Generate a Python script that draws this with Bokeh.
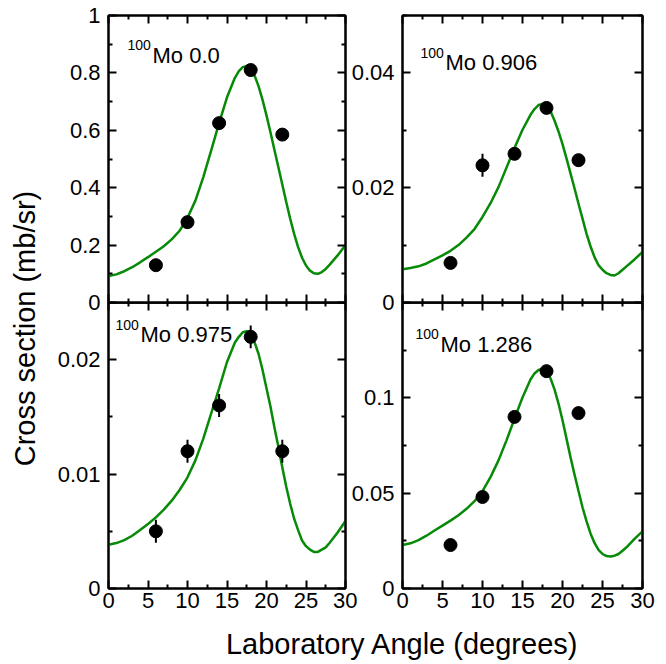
from bokeh.plotting import figure
from bokeh.models import Range1d, LinearAxis, FixedTicker, Label
from bokeh.layouts import row, column
from bokeh.embed import file_html
from bokeh.resources import INLINE
import math

# ---------------- data ----------------
angles = [6, 10, 14, 18, 22]

curve_x = [0, 1, 2, 3, 4, 5, 6, 7, 8, 9, 10, 11, 12, 13, 14, 15, 16, 16.5, 17,
           17.5, 18, 18.5, 19, 19.5, 20, 20.5, 21, 21.5, 22, 22.5, 23, 23.5,
           24, 24.5, 25, 25.5, 26, 26.5, 27, 27.5, 28, 29, 30]

# 100Mo 0.0
tl_points = [0.13, 0.28, 0.625, 0.81, 0.585]
tl_errors = [0.0, 0.0, 0.0, 0.0, 0.0]
tl_curve = [0.092, 0.098, 0.109, 0.123, 0.140, 0.158, 0.177, 0.196, 0.22,
            0.25, 0.295, 0.355, 0.437, 0.53, 0.625, 0.715, 0.783, 0.806, 0.82,
            0.824, 0.815, 0.79, 0.753, 0.706, 0.652, 0.593, 0.532, 0.472,
            0.411, 0.35, 0.292, 0.239, 0.193, 0.156, 0.129, 0.111, 0.102,
            0.10, 0.106, 0.117, 0.132, 0.164, 0.20]

# 100Mo 0.906
tr_points = [0.0069, 0.0239, 0.0259, 0.0339, 0.0248]
tr_errors = [0.0, 0.002, 0.0, 0.0, 0.0]
tr_curve = [0.0058, 0.0060, 0.0063, 0.0068, 0.0075, 0.0082, 0.0090, 0.0100,
            0.0113, 0.0128, 0.0149, 0.0173, 0.0201, 0.0235, 0.0269, 0.0301,
            0.0327, 0.0337, 0.0344, 0.0346, 0.0343, 0.0333, 0.0317, 0.0298,
            0.0276, 0.0251, 0.0225, 0.0199, 0.0172, 0.0146, 0.0120, 0.0098,
            0.0079, 0.0065, 0.0057, 0.0051, 0.0048, 0.0047, 0.0051, 0.0057,
            0.0063, 0.0075, 0.0088]

# 100Mo 0.975
bl_points = [0.005, 0.012, 0.016, 0.022, 0.012]
bl_errors = [0.001, 0.001, 0.001, 0.001, 0.001]
bl_curve = [0.00382, 0.00397, 0.00423, 0.00461, 0.00511, 0.00564, 0.00622,
            0.00689, 0.00768, 0.00861, 0.00972, 0.0112, 0.0131, 0.0153,
            0.0175, 0.0198, 0.0215, 0.0220, 0.0224, 0.0225, 0.0223, 0.0215,
            0.0205, 0.0191, 0.0175, 0.0159, 0.0141, 0.0124, 0.0106, 0.0089,
            0.0074, 0.0061, 0.0051, 0.0042, 0.0037, 0.0034, 0.0032, 0.0032,
            0.0034, 0.0036, 0.0040, 0.0049, 0.0059]

# 100Mo 1.286
br_points = [0.0228, 0.048, 0.09, 0.114, 0.092]
br_errors = [0.0, 0.0, 0.0, 0.0, 0.0]
br_curve = [0.0228, 0.0237, 0.0254, 0.0277, 0.0304, 0.0330, 0.0356, 0.0384,
            0.0418, 0.0458, 0.0511, 0.0584, 0.0672, 0.0777, 0.0891, 0.1002,
            0.1096, 0.1128, 0.1146, 0.1153, 0.1139, 0.1102, 0.1044, 0.0970,
            0.0882, 0.0786, 0.0689, 0.0598, 0.0511, 0.0426, 0.0353, 0.0289,
            0.0239, 0.0202, 0.0181, 0.0170, 0.0168, 0.0172, 0.0181, 0.0198,
            0.0216, 0.0260, 0.0300]

x_major = [0, 5, 10, 15, 20, 25, 30]
x_minor = [2.5, 7.5, 12.5, 17.5, 22.5, 27.5]
x_labels = ["0", "5", "10", "15", "20", "25", "30"]

tl_y_major = [0, 0.2, 0.4, 0.6, 0.8, 1.0]
tl_y_minor = [0.1, 0.3, 0.5, 0.7, 0.9]
tl_y_labels = ["0", "0.2", "0.4", "0.6", "0.8", "1"]

tr_y_major = [0, 0.02, 0.04]
tr_y_minor = [0.01, 0.03, 0.05]
tr_y_labels = ["0", "0.02", "0.04"]

bl_y_major = [0, 0.01, 0.02]
bl_y_minor = [0.005, 0.015, 0.025]
bl_y_labels = ["0", "0.01", "0.02"]

br_y_major = [0, 0.05, 0.1]
br_y_minor = [0.025, 0.075, 0.125]
br_y_labels = ["0", "0.05", "0.1"]

FONT = "Liberation Sans"
GREEN = "#078a07"


def style_axis(ax, major, minor, labels, show_labels, standoff):
    ax.ticker = FixedTicker(ticks=major, minor_ticks=minor)
    ax.axis_line_color = "black"
    ax.axis_line_width = 2
    ax.major_tick_in = 8
    ax.major_tick_out = 0
    ax.minor_tick_in = 4
    ax.minor_tick_out = 0
    ax.major_tick_line_width = 2
    ax.minor_tick_line_width = 2
    ax.major_tick_line_color = "black"
    ax.minor_tick_line_color = "black"
    ax.major_label_text_font = FONT
    if show_labels:
        ax.major_label_overrides = {t: s for t, s in zip(major, labels)}
        ax.major_label_text_color = "black"
        ax.major_label_text_font_size = "22px"
        ax.major_label_standoff = standoff
    else:
        ax.major_label_text_color = None
        ax.major_label_text_font_size = "0px"
        ax.major_label_standoff = 0


def make_panel(points, errors, curve, ymax, ymaj, ymin, ylab, name, lx, ly,
               fw, fh, bl, br, bt, bb, show_x, margin):
    p = figure(output_backend="svg", toolbar_location=None,
               frame_width=fw, frame_height=fh,
               x_range=Range1d(0, 30), y_range=Range1d(0, ymax),
               min_border_left=bl, min_border_right=br,
               min_border_top=bt, min_border_bottom=bb,
               margin=margin)
    p.background_fill_alpha = 0
    p.border_fill_alpha = 0
    p.outline_line_color = "black"
    p.outline_line_width = 2
    p.grid.visible = False

    style_axis(p.xaxis[0], x_major, x_minor, x_labels, show_x, 4)
    style_axis(p.yaxis[0], ymaj, ymin, ylab, True, 8)
    top = LinearAxis()
    style_axis(top, x_major, x_minor, x_labels, False, 0)
    p.add_layout(top, "above")
    right = LinearAxis()
    style_axis(right, ymaj, ymin, ylab, False, 0)
    p.add_layout(right, "right")

    p.line(curve_x, curve, line_color=GREEN, line_width=2.5)
    lo = [v - e for v, e in zip(points, errors)]
    hi = [v + e for v, e in zip(points, errors)]
    p.segment(x0=angles, y0=lo, x1=angles, y1=hi, line_color="black", line_width=2)
    p.scatter(angles, points, size=13, fill_color="black", line_color="black")

    p.add_layout(Label(x=lx, y=ly, text=name, text_font=FONT,
                       text_font_size="22px", text_color="black",
                       text_baseline="middle", text_align="left"))
    p.add_layout(Label(x=lx, y=ly, x_offset=-25, y_offset=10, text="100",
                       text_font=FONT, text_font_size="14px", text_color="black",
                       text_baseline="middle", text_align="left"))
    return p


tl = make_panel(tl_points, tl_errors, tl_curve, 1.0, tl_y_major, tl_y_minor,
                tl_y_labels, "Mo 0.0", 5.57, 0.862,
                237, 287, 60, 12, 15, 12, False, (0, 0, 0, 0))
tr = make_panel(tr_points, tr_errors, tr_curve, 0.05, tr_y_major, tr_y_minor,
                tr_y_labels, "Mo 0.906", 5.37, 0.0418,
                240, 287, 57, 14, 15, 12, False, (0, 0, 0, -12))
bl = make_panel(bl_points, bl_errors, bl_curve, 0.025, bl_y_major, bl_y_minor,
                bl_y_labels, "Mo 0.975", 4.05, 0.02216,
                237, 286, 60, 12, 0, 32, True, (-12, 0, 0, 0))
br = make_panel(br_points, br_errors, br_curve, 0.15, br_y_major, br_y_minor,
                br_y_labels, "Mo 1.286", 4.75, 0.128,
                240, 286, 57, 14, 0, 32, True, (-12, 0, 0, -12))

# y-axis title column
ylab = figure(output_backend="svg", toolbar_location=None, width=48, height=620,
              x_range=Range1d(0, 48), y_range=Range1d(0, 620),
              x_axis_location=None, y_axis_location=None, min_border=0)
ylab.grid.visible = False
ylab.outline_line_color = None
ylab.add_layout(Label(x=24, y=292, text="Cross section (mb/sr)", angle=math.pi / 2,
                      text_font=FONT, text_font_size="29px", text_color="black",
                      text_align="center", text_baseline="middle"))

# x-axis title row
xlab = figure(output_backend="svg", toolbar_location=None, width=608, height=42,
              x_range=Range1d(0, 608), y_range=Range1d(0, 42),
              x_axis_location=None, y_axis_location=None, min_border=0)
xlab.grid.visible = False
xlab.outline_line_color = None
xlab.add_layout(Label(x=354, y=19, text="Laboratory Angle (degrees)",
                      text_font=FONT, text_font_size="29px", text_color="black",
                      text_align="center", text_baseline="middle"))

layout = row(ylab, column(row(tl, tr), row(bl, br), xlab))

open("out.html", "w").write(file_html(layout, INLINE))
